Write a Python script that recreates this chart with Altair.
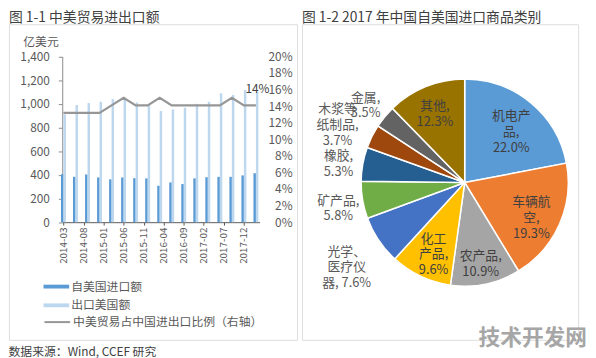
import altair as alt
import pandas as pd

FONT = "Noto Sans CJK SC"

# ---------------- Left panel data (quarterly, 亿美元 / %) ----------------
dates = ["2014-03", "2014-06", "2014-09", "2014-12", "2015-03", "2015-06",
         "2015-09", "2015-12", "2016-03", "2016-06", "2016-09", "2016-12",
         "2017-03", "2017-06", "2017-09", "2017-12", "2018-03"]
imports_usd = [405, 383, 403, 378, 362, 378, 372, 370, 308, 336, 322, 370,
               380, 383, 383, 395, 414]
exports_usd = [910, 990, 1006, 1017, 1039, 1052, 1011, 995, 939, 953, 967,
               1000, 1017, 1089, 1075, 1117, 1100]
ratio_pct = [13.2, 13.2, 13.2, 13.2, 14.1, 15.0, 14.1, 14.1, 15.0, 14.1,
             14.1, 14.1, 14.1, 14.1, 15.0, 14.1, 14.1]
tick_labels = ["2014-03", "2014-08", "2015-01", "2015-06", "2015-11",
               "2016-04", "2016-09", "2017-02", "2017-07", "2017-12"]
left_ticks = [0, 200, 400, 600, 800, 1000, 1200, 1400]
right_ticks = [0, 2, 4, 6, 8, 10, 12, 14, 16, 18, 20]

series_names = ["自美国进口额", "出口美国额"]
series_colors = ["#5B9BD5", "#BDD7EE"]
line_name = "中美贸易占中国进出口比例（右轴）"

# ---------------- Right panel data (2017 share, %) ----------------
categories = ["机电产品", "车辆航空", "农产品", "化工产品", "光学、医疗仪器",
              "矿产品", "橡胶", "木浆等纸制品", "金属", "其他"]
display_names = ["机电产\n品", "车辆航\n空", "农产品", "化工\n产品", "光学、\n医疗仪\n器",
                 "矿产品", "橡胶", "木浆等\n纸制品", "金属", "其他"]
shares = [22.0, 19.3, 10.9, 9.6, 7.6, 5.8, 5.3, 3.7, 3.5, 12.3]
pie_colors = ["#5B9BD5", "#ED7D31", "#A5A5A5", "#FFC000", "#4472C4",
              "#70AD47", "#255E91", "#9E480E", "#636363", "#997300"]


def month_index(s):
    y, m = s.split("-")
    return (int(y) - 2014) * 12 + int(m) - 3


df = pd.DataFrame({
    "date": dates,
    "m": [month_index(d) for d in dates],
    "imp": imports_usd,
    "exp": exports_usd,
    "ratio": ratio_pct,
})

tick_vals = [month_index(t) for t in tick_labels]
label_expr = "[" + ",".join("'%s'" % t for t in tick_labels) + "][round(datum.value/5)]"

x_enc = alt.X(
    "m:Q",
    scale=alt.Scale(domain=[-0.3, 48.9], range=[54, 254], nice=False, zero=False, padding=0),
    axis=alt.Axis(orient="bottom", offset=-119.3, values=tick_vals, labelExpr=label_expr,
                  labelAngle=-90, labelAlign="right", labelBaseline="middle",
                  tickSize=3, labelPadding=2, domainColor="#595959", tickColor="#595959",
                  labelFontSize=10, labelColor="#595959", labelFont=FONT,
                  title=None, grid=False),
)

y_left_scale = alt.Scale(domain=[0, 1400], range=[200.7, 32.7], nice=False)
y_left_axis = alt.Axis(orient="left", offset=-54, values=left_ticks,
                       labelExpr="format(datum.value, ',.0f')",
                       domainColor="#8c8c8c", tickColor="#8c8c8c", tickSize=4,
                       labelPadding=9, labelFontSize=12, labelColor="#595959", labelFont=FONT,
                       title="亿美元", titleAngle=0, titleX=-22, titleY=18,
                       titleAlign="center", titleBaseline="middle", titleFontSize=12,
                       titleFontWeight="normal", titleColor="#595959", titleFont=FONT,
                       grid=False)

color_scale = alt.Scale(domain=series_names, range=series_colors)
color_legend = alt.Legend(orient="none", legendX=35, legendY=253, title=None,
                          symbolType="M-1,-0.15H1V0.15H-1Z", symbolSize=676,
                          symbolStrokeWidth=0, labelFontSize=12, labelColor="#595959",
                          labelFont=FONT, labelOffset=2, rowPadding=-8.5, padding=0,
                          labelLimit=300, direction="vertical")

base_left = alt.Chart(df)

imp_bars = base_left.transform_calculate(series="'%s'" % series_names[0]).mark_bar(
    width=2.5, xOffset=-1.25).encode(
    x=x_enc,
    y=alt.Y("imp:Q", scale=y_left_scale, axis=y_left_axis),
    color=alt.Color("series:N", scale=color_scale, legend=color_legend),
)
exp_bars = base_left.transform_calculate(series="'%s'" % series_names[1]).mark_bar(
    width=2.5, xOffset=1.25).encode(
    x=x_enc,
    y=alt.Y("exp:Q", scale=y_left_scale, axis=y_left_axis),
    color=alt.Color("series:N", scale=color_scale, legend=color_legend),
)

y_right_scale = alt.Scale(domain=[0, 20], range=[200.7, 32.7], nice=False)
y_right_axis = alt.Axis(orient="right", offset=-38, values=right_ticks,
                        labelExpr="datum.value + '%'", domain=False, ticks=False, tickSize=0,
                        labelPadding=33, labelAlign="right", labelFontSize=12,
                        labelColor="#595959", labelFont=FONT, title=None, grid=False)

line = base_left.transform_calculate(s2="'%s'" % line_name).mark_line(
    strokeWidth=2.2).encode(
    x=x_enc,
    y=alt.Y("ratio:Q", scale=y_right_scale, axis=y_right_axis),
    stroke=alt.Stroke("s2:N", scale=alt.Scale(range=["#969696"]),
                      legend=alt.Legend(orient="none", legendX=35, legendY=288, title=None,
                                        symbolType="stroke", symbolSize=676,
                                        symbolStrokeWidth=2, labelFontSize=12,
                                        labelColor="#595959", labelFont=FONT,
                                        labelOffset=2, padding=0, labelLimit=300)),
)
last_label = base_left.transform_joinaggregate(mmax="max(m)").transform_filter(
    "datum.m == datum.mmax").transform_calculate(
    txt="format(datum.ratio, '.0f') + '%'").mark_text(
    dy=-17, dx=1.5, fontSize=12, color="#404040", font=FONT).encode(
    x=x_enc,
    y=alt.Y("ratio:Q", scale=y_right_scale, axis=y_right_axis),
    text="txt:N",
)

left = alt.layer(alt.layer(imp_bars, exp_bars), alt.layer(line, last_label)).resolve_scale(
    y="independent").properties(
    width=292, height=320,
    title=alt.TitleParams("图 1-1  中美贸易进出口额", anchor="start", fontSize=14,
                          fontWeight="normal", color="#404040", font=FONT, offset=-1),
)

# ---------------- Right panel ----------------
pie_labels = []
for name, s in zip(display_names, shares):
    sep = ", " if name.count("\n") >= 2 else ",\n"
    pie_labels.append("%s%s%.1f%%" % (name, sep, s))

pie_df = pd.DataFrame({"cat": categories, "share": shares, "idx": list(range(len(shares))),
                       "label": pie_labels,
                       "nlines": [lbl.count("\n") + 1 for lbl in pie_labels]})

theta_scale = alt.Scale(domain=[0, 100], range=[0, 6.283185307179586])
cx, cy = 165, 160.5

pie_base = alt.Chart(pie_df).transform_window(
    cum="sum(share)", sort=[alt.SortField("idx")], frame=[None, 0]).transform_calculate(
    start="datum.cum - datum.share", mid="datum.cum - datum.share / 2")

arcs = pie_base.mark_arc(outerRadius=105, stroke="white", strokeWidth=1.5).encode(
    theta=alt.Theta("start:Q", scale=theta_scale, stack=False),
    theta2="cum:Q",
    color=alt.Color("cat:N", scale=alt.Scale(domain=categories, range=pie_colors), legend=None),
    x=alt.value(cx), y=alt.value(cy),
)


def label_layer(cond, radius, nl, color):
    return pie_base.transform_filter(
        "(%s) && datum.nlines == %d" % (cond, nl)).mark_text(
        radius=radius, fontSize=13, lineHeight=16, lineBreak="\n", color=color,
        font=FONT, dy=(-3.5 if nl == 2 else -10)).encode(
        theta=alt.Theta("mid:Q", scale=theta_scale, stack=False),
        text="label:N",
        x=alt.value(cx), y=alt.value(cy),
    )


labels = [
    label_layer("datum.share >= 9", 80, 2, "#404040"),
    label_layer("datum.share >= 9", 74, 3, "#404040"),
    label_layer("datum.share < 9", 130, 2, "#595959"),
    label_layer("datum.share < 9", 144, 3, "#595959"),
]

watermark = alt.Chart(pd.DataFrame({"t": ["技术开发网"]})).mark_text(
    fontSize=22, fontWeight="bold", color="#a6a6a6", font=FONT).encode(
    text="t:N", x=alt.value(234), y=alt.value(318))

right = alt.layer(arcs, *labels, watermark).properties(
    width=280, height=320,
    title=alt.TitleParams("图 1-2 2017 年中国自美国进口商品类别", anchor="start", fontSize=14,
                          fontWeight="normal", color="#404040", font=FONT, offset=-1),
)

chart = alt.hconcat(left, right, spacing=3).resolve_scale(color="independent").properties(
    padding={"left": 0, "top": 0, "right": 0, "bottom": 0},
    title=alt.TitleParams("数据来源：Wind, CCEF 研究", orient="bottom", anchor="start",
                          fontSize=12, fontWeight="normal", color="#404040", font=FONT,
                          offset=-2),
).configure_view(stroke="#d9d9d9", strokeWidth=1).configure(font=FONT)

chart.save("out.html", embed_options={"renderer": "svg", "actions": False})
